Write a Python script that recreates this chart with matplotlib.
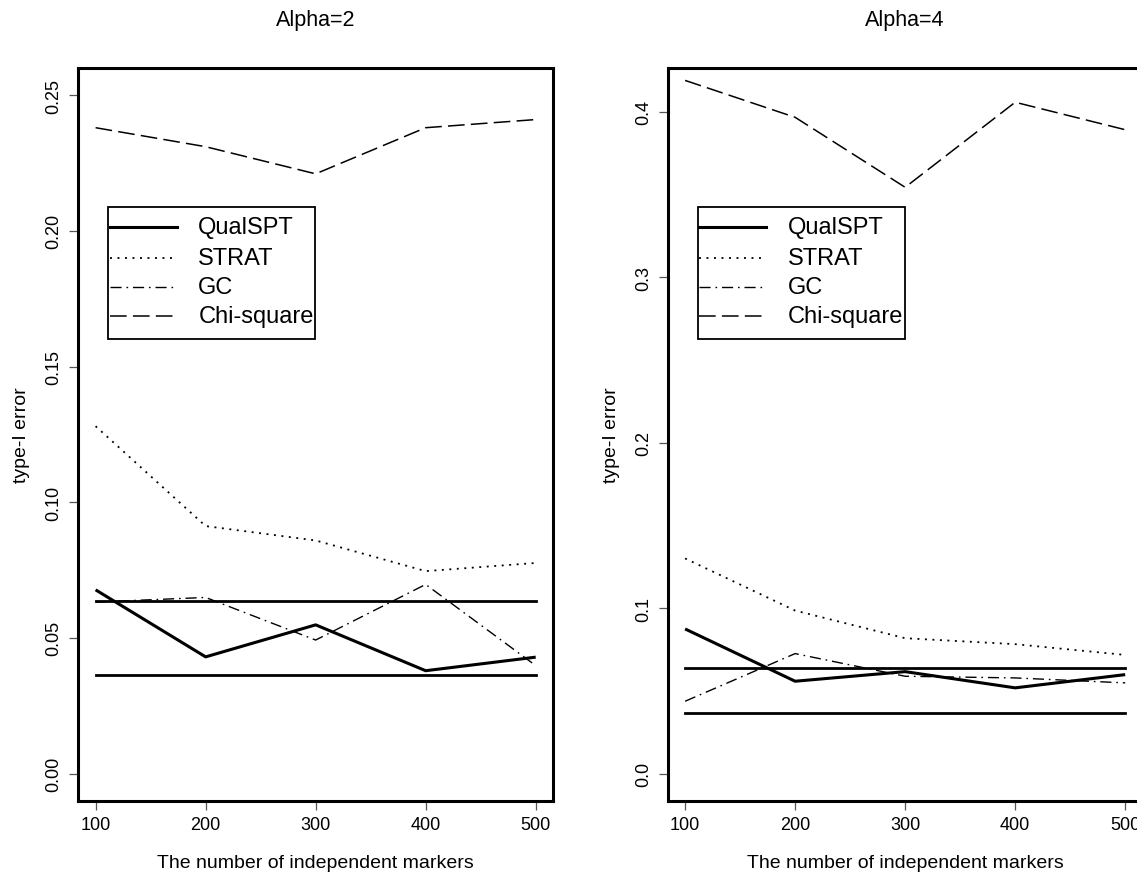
import matplotlib
matplotlib.use("Agg")
import matplotlib.pyplot as plt
from matplotlib.lines import Line2D
from matplotlib.patches import Rectangle

plt.rcParams["font.family"] = ["Liberation Sans", "DejaVu Sans"]
plt.rcParams["lines.scale_dashes"] = False

markers = [100, 200, 300, 400, 500]

# Alpha=2
qualspt_a2 = [0.0677, 0.0430, 0.0548, 0.0379, 0.0429]
strat_a2 = [0.128, 0.0912, 0.0859, 0.0746, 0.0776]
gc_a2 = [0.0632, 0.0649, 0.0492, 0.0697, 0.0398]
chisq_a2 = [0.238, 0.231, 0.221, 0.238, 0.241]

# Alpha=4
qualspt_a4 = [0.0874, 0.0558, 0.0616, 0.0518, 0.0598]
strat_a4 = [0.130, 0.0985, 0.0818, 0.0782, 0.0717]
gc_a4 = [0.0437, 0.0725, 0.0588, 0.0578, 0.0548]
chisq_a4 = [0.4189, 0.3966, 0.3543, 0.4057, 0.3891]

# 95% bounds around nominal 0.05
bounds = [0.0365, 0.0635]

titles = ["Alpha=2", "Alpha=4"]
ylims = [(-0.0100, 0.2600), (-0.0164, 0.4264)]
yticks = [[0.00, 0.05, 0.10, 0.15, 0.20, 0.25], [0.0, 0.1, 0.2, 0.3, 0.4]]
ytick_labels = [["0.00", "0.05", "0.10", "0.15", "0.20", "0.25"],
                ["0.0", "0.1", "0.2", "0.3", "0.4"]]
labels = ["QualSPT", "STRAT", "GC", "Chi-square"]

W, H = 1137, 879
fig = plt.figure(figsize=(W / 100, H / 100), dpi=100)

ax_w = 475.3 / W
ax_h = 732.7 / H
ax_b = (H - 801.7) / H
axes = [fig.add_axes([78 / W, ax_b, ax_w, ax_h]),
        fig.add_axes([667.5 / W, ax_b, ax_w, ax_h])]

styles = [
    dict(color="black", lw=2.2, linestyle="-"),
    dict(color="black", lw=1.3, linestyle=(0, (1.4, 4.0))),
    dict(color="black", lw=1.0, linestyle=(0, (8, 3.5, 1.2, 3.5))),
    dict(color="black", lw=1.1, linestyle=(0, (12, 4.5))),
]

data = [[qualspt_a2, strat_a2, gc_a2, chisq_a2],
        [qualspt_a4, strat_a4, gc_a4, chisq_a4]]

for k, ax in enumerate(axes):
    for series, st in zip(data[k], styles):
        ax.plot(markers, series, solid_capstyle="butt", dash_capstyle="butt", **st)
    for b in bounds:
        ax.plot([markers[0], markers[-1]], [b, b], color="black", lw=2.0)

    ax.set_xlim(84, 516)
    ax.set_ylim(*ylims[k])
    ax.set_xticks(markers)
    ax.set_yticks(yticks[k])
    ax.set_yticklabels(ytick_labels[k], rotation=90, va="center")
    ax.tick_params(direction="out", length=6.5, width=0.9, color="#555555",
                   labelsize=13, pad=4.5)
    for sp in ax.spines.values():
        sp.set_linewidth(2.2)
    ax.set_title(titles[k], fontsize=15.5, pad=31)
    ax.set_xlabel("The number of independent markers", fontsize=14, labelpad=15)
    ax.set_ylabel("type-I error", fontsize=14, labelpad=11)

    # legend drawn like R's legend()
    ax.add_patch(Rectangle((0.0637, 0.630), 0.4356, 0.180, transform=ax.transAxes,
                           fill=False, edgecolor="black", lw=1.3, zorder=5))
    rows = [0.7828, 0.7403, 0.7015, 0.662]
    for lab, st, yy in zip(labels, styles, rows):
        ax.add_line(Line2D([0.0673, 0.2077], [yy, yy], transform=ax.transAxes,
                           zorder=6, **st))
        ax.text(0.2532, yy, lab, transform=ax.transAxes, fontsize=17,
                va="center", ha="left", zorder=6)

fig.savefig("out.png", dpi=100)
